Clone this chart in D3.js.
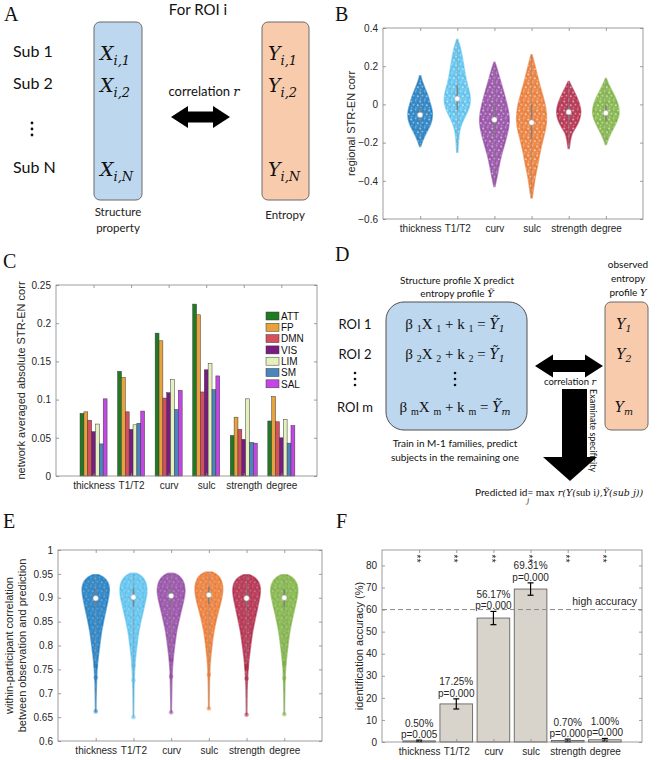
<!DOCTYPE html>
<html>
<head>
<meta charset="utf-8">
<script src="https://cdn.jsdelivr.net/npm/d3@7"></script>
<style>
  body { margin: 0; background: #fff; }
  svg { display: block; }
</style>
</head>
<body>
<div id="chart"></div>
<script>
// ---------- data ----------
var categories = ["thickness", "T1/T2", "curv", "sulc", "strength", "degree"];
var catColors = ["#0b72bd", "#4dbdee", "#8a3a9c", "#ea6f22", "#ab1638", "#74ad33"];

// panel B : regional STR-EN corr, violin outlines [value, relative density]
var bProfiles = [
  [[0.15,0.03],[0.12,0.13],[0.08,0.33],[0.04,0.55],[0.0,0.68],[-0.03,0.8],[-0.06,0.83],[-0.1,0.73],[-0.13,0.53],[-0.16,0.33],[-0.19,0.16],[-0.22,0.03]],
  [[0.34,0.03],[0.3,0.2],[0.25,0.33],[0.2,0.43],[0.15,0.53],[0.1,0.67],[0.05,0.87],[0.0,0.87],[-0.04,0.67],[-0.08,0.4],[-0.12,0.2],[-0.16,0.1],[-0.25,0.03]],
  [[0.22,0.03],[0.18,0.2],[0.12,0.4],[0.05,0.67],[0.0,0.83],[-0.05,0.97],[-0.1,1.0],[-0.15,0.87],[-0.2,0.7],[-0.26,0.47],[-0.32,0.3],[-0.38,0.17],[-0.43,0.03]],
  [[0.26,0.03],[0.2,0.23],[0.12,0.47],[0.05,0.73],[0.0,0.9],[-0.05,1.0],[-0.1,1.0],[-0.15,0.87],[-0.2,0.7],[-0.26,0.53],[-0.32,0.4],[-0.38,0.23],[-0.44,0.13],[-0.49,0.03]],
  [[0.12,0.03],[0.08,0.27],[0.04,0.53],[0.0,0.73],[-0.04,0.83],[-0.08,0.73],[-0.12,0.47],[-0.15,0.2],[-0.19,0.1],[-0.23,0.03]],
  [[0.135,0.03],[0.1,0.2],[0.06,0.47],[0.02,0.73],[-0.02,0.87],[-0.05,0.9],[-0.09,0.73],[-0.13,0.47],[-0.17,0.2],[-0.21,0.03]]
];
var bMedians = [-0.055, 0.03, -0.08, -0.095, -0.04, -0.045];
var bQ1 = [-0.09, -0.03, -0.16, -0.18, -0.08, -0.085];
var bQ3 = [-0.02, 0.1, 0.0, 0.0, -0.005, -0.005];
var bTicks = [-0.6, -0.4, -0.2, 0, 0.2, 0.4];

// panel C : network averaged absolute STR-EN corr
var networks = ["ATT", "FP", "DMN", "VIS", "LIM", "SM", "SAL"];
var netColors = ["#1f7a22", "#e9a23b", "#d64f5c", "#7a1b82", "#e5f1bd", "#4a85bd", "#c546e6"];
var netCorr = [
  [0.082, 0.084, 0.073, 0.058, 0.068, 0.042, 0.101],
  [0.137, 0.129, 0.084, 0.061, 0.067, 0.069, 0.085],
  [0.187, 0.177, 0.102, 0.109, 0.126, 0.087, 0.112],
  [0.225, 0.211, 0.110, 0.139, 0.147, 0.113, 0.131],
  [0.053, 0.077, 0.061, 0.048, 0.101, 0.044, 0.043],
  [0.072, 0.104, 0.071, 0.050, 0.074, 0.043, 0.066]
];
var cTicks = [0, 0.05, 0.1, 0.15, 0.2, 0.25];

// panel E : within-participant correlation, violin outlines [value, relative density]
var eProfiles = [
  [[0.948,0.2],[0.943,0.55],[0.933,0.82],[0.92,0.93],[0.905,0.88],[0.89,0.78],[0.875,0.68],[0.86,0.58],[0.845,0.48],[0.83,0.38],[0.81,0.3],[0.79,0.22],[0.77,0.14],[0.75,0.08],[0.72,0.04],[0.69,0.02],[0.662,0.01]],
  [[0.951,0.2],[0.946,0.55],[0.935,0.8],[0.92,0.92],[0.905,0.88],[0.89,0.78],[0.875,0.67],[0.86,0.56],[0.845,0.45],[0.83,0.35],[0.81,0.27],[0.79,0.19],[0.77,0.12],[0.75,0.07],[0.72,0.04],[0.68,0.02],[0.65,0.01]],
  [[0.951,0.2],[0.946,0.56],[0.935,0.82],[0.92,0.94],[0.905,0.9],[0.89,0.8],[0.875,0.68],[0.86,0.57],[0.845,0.46],[0.83,0.36],[0.81,0.27],[0.79,0.19],[0.77,0.12],[0.75,0.07],[0.72,0.04],[0.68,0.02],[0.66,0.01]],
  [[0.954,0.2],[0.949,0.56],[0.938,0.83],[0.922,0.95],[0.906,0.9],[0.89,0.79],[0.875,0.66],[0.86,0.54],[0.845,0.43],[0.83,0.33],[0.81,0.24],[0.79,0.17],[0.77,0.1],[0.75,0.06],[0.72,0.03],[0.69,0.02],[0.668,0.01]],
  [[0.948,0.2],[0.943,0.55],[0.933,0.82],[0.92,0.93],[0.905,0.9],[0.89,0.8],[0.875,0.7],[0.86,0.6],[0.845,0.5],[0.83,0.4],[0.81,0.31],[0.79,0.23],[0.77,0.15],[0.75,0.09],[0.72,0.04],[0.69,0.02],[0.655,0.01]],
  [[0.948,0.2],[0.943,0.54],[0.933,0.8],[0.92,0.92],[0.905,0.88],[0.89,0.78],[0.875,0.67],[0.86,0.56],[0.845,0.46],[0.83,0.36],[0.81,0.28],[0.79,0.2],[0.77,0.13],[0.75,0.07],[0.72,0.04],[0.69,0.02],[0.656,0.01]]
];
var eMedians = [0.899, 0.901, 0.904, 0.906, 0.899, 0.9];
var eQ1 = [0.88, 0.882, 0.885, 0.887, 0.88, 0.881];
var eQ3 = [0.918, 0.919, 0.921, 0.923, 0.918, 0.918];
var eOutliers = [
  [0.757, 0.733, 0.662],
  [0.758, 0.727, 0.65],
  [0.77, 0.735, 0.66],
  [0.739, 0.668],
  [0.758, 0.752, 0.731, 0.655],
  [0.762, 0.732, 0.656]
];
var eTicks = [0.6, 0.65, 0.7, 0.75, 0.8, 0.85, 0.9, 0.95, 1];

// panel F : identification accuracy
var fAccuracy = [0.50, 17.25, 56.17, 69.31, 0.70, 1.00];
var fError = [0.35, 2.3, 3.0, 2.8, 0.6, 0.6];
var fPvalue = ["0.005", "0.000", "0.000", "0.000", "0.000", "0.000"];
var fHighAccuracy = 60;
var fStarLevel = 83;
var fTicks = [0, 10, 20, 30, 40, 50, 60, 70, 80];

// ---------- setup ----------
var sansAxis = "'Liberation Sans', Arial, sans-serif";
var sansDiag = "Lato, 'Open Sans', sans-serif";
var serif = "'Liberation Serif', 'Times New Roman', serif";
var mathFont = "'DejaVu Serif', serif";
var axisGray = "#858585";
var textDark = "#262626";

var svg = d3.select("#chart").append("svg")
    .attr("width", 666)
    .attr("height", 760)
    .style("background", "#fff");

var defs = svg.append("defs");
// speckle texture used to mimic the jittered points inside the violins
function speck(id, op) {
  var p = defs.append("pattern").attr("id", id)
      .attr("width", 9).attr("height", 9).attr("patternUnits", "userSpaceOnUse");
  var dots = [[1.2, 1.5, 1.0, 1], [5.6, 0.8, 0.8, 0.7], [3.4, 4.6, 0.9, 0.85], [7.8, 5.2, 1.0, 1], [1.6, 7.6, 0.8, 0.6], [6.0, 8.0, 0.7, 0.8]];
  dots.forEach(function(d) {
    p.append("circle").attr("cx", d[0]).attr("cy", d[1]).attr("r", d[2]).attr("fill", "#fff").attr("opacity", op * d[3]);
  });
  [[4.0, 1.8], [0.6, 4.4], [8.2, 2.4], [4.4, 7.2]].forEach(function(d) {
    p.append("circle").attr("cx", d[0]).attr("cy", d[1]).attr("r", 0.9).attr("fill", "#000").attr("opacity", 0.08);
  });
}
speck("speckB", 0.5);
speck("speckE", 0.22);

// panel letters
var letters = [["A", 4, 21], ["B", 335, 21], ["C", 3, 268], ["D", 335, 261], ["E", 3, 528], ["F", 336, 528]];
svg.selectAll("text.letter").data(letters).enter().append("text")
    .attr("class", "letter")
    .attr("x", function(d) { return d[1]; })
    .attr("y", function(d) { return d[2]; })
    .attr("font-family", serif)
    .attr("font-size", 20)
    .attr("fill", "#111")
    .text(function(d) { return d[0]; });

// matlab-like box axes with inward ticks
function boxAxes(g, x, y, w, h, yTicks, yFmt, xVals) {
  g.append("rect").attr("width", w).attr("height", h)
      .attr("fill", "none").attr("stroke", axisGray).attr("stroke-width", 0.8);
  var left = g.append("g").call(d3.axisLeft(y).tickValues(yTicks).tickFormat(yFmt).tickSize(-3).tickPadding(5));
  var right = g.append("g").attr("transform", "translate(" + w + ",0)")
      .call(d3.axisRight(y).tickValues(yTicks).tickFormat("").tickSize(-3));
  var bottom = g.append("g").attr("transform", "translate(0," + h + ")")
      .call(d3.axisBottom(x).tickValues(xVals).tickFormat(function(d) { return categories[d - 1]; }).tickSize(-3).tickPadding(6));
  var top = g.append("g")
      .call(d3.axisTop(x).tickValues(xVals).tickFormat("").tickSize(-3));
  [left, right, bottom, top].forEach(function(a) {
    a.select(".domain").remove();
    a.selectAll("line").attr("stroke", axisGray).attr("stroke-width", 0.8);
    a.selectAll("text").attr("font-family", sansAxis).attr("font-size", 10).attr("fill", textDark);
  });
}

function yLabel(g, x, cy, lines) {
  var t = g.append("text")
      .attr("transform", "translate(" + x + "," + cy + ") rotate(-90)")
      .attr("text-anchor", "middle")
      .attr("font-family", sansAxis).attr("font-size", 11).attr("fill", textDark);
  lines.forEach(function(s, i) {
    t.append("tspan").attr("x", 0).attr("dy", i === 0 ? (-(lines.length - 1) * 13 / 2) : 13).text(s);
  });
}

function violins(g, x, y, profiles, medians, q1, q3, maxHalf, pat) {
  var wScale = d3.scaleLinear().domain([0, 1]).range([0, maxHalf]);
  profiles.forEach(function(prof, i) {
    var cx = x(i + 1);
    var area = d3.area()
        .y(function(d) { return y(d[0]); })
        .x0(function(d) { return cx - wScale(d[1]); })
        .x1(function(d) { return cx + wScale(d[1]); })
        .curve(d3.curveBasis);
    g.append("path").attr("d", area(prof)).attr("fill", catColors[i]).attr("fill-opacity", 0.82)
        .attr("stroke", catColors[i]).attr("stroke-opacity", 0.55).attr("stroke-width", 1.6);
    g.append("path").attr("d", area(prof)).attr("fill", "url(#" + pat + ")");
    g.append("line").attr("x1", cx).attr("x2", cx)
        .attr("y1", y(prof[prof.length - 1][0])).attr("y2", y(prof[0][0]))
        .attr("stroke", "#8c8c8c").attr("stroke-width", 0.6).attr("stroke-opacity", 0.7);
    g.append("line").attr("x1", cx).attr("x2", cx)
        .attr("y1", y(q1[i])).attr("y2", y(q3[i]))
        .attr("stroke", "#7a7a7a").attr("stroke-width", 1.6).attr("stroke-opacity", 0.8);
    g.append("circle").attr("cx", cx).attr("cy", y(medians[i])).attr("r", 2.7)
        .attr("fill", "#fff").attr("stroke", "#999").attr("stroke-width", 0.5);
  });
}

// ---------- panel A : diagram ----------
var gA = svg.append("g");
gA.append("text").attr("x", 198).attr("y", 15).attr("text-anchor", "middle")
    .attr("font-family", sansDiag).attr("font-size", 15).attr("fill", "#111").text("For ROI i");
gA.append("rect").attr("x", 94).attr("y", 22).attr("width", 48).attr("height", 178).attr("rx", 6)
    .attr("fill", "#bdd7ee").attr("stroke", "#6b6b6b").attr("stroke-width", 1);
gA.append("rect").attr("x", 262).attr("y", 22).attr("width", 47).attr("height", 178).attr("rx", 6)
    .attr("fill", "#f8cbad").attr("stroke", "#6b6b6b").attr("stroke-width", 1);
var subRows = [["Sub 1", "1", 57], ["Sub 2", "2", 89], ["Sub N", "N", 173]];
subRows.forEach(function(r) {
  gA.append("text").attr("x", 13).attr("y", r[2]).attr("font-family", sansDiag).attr("font-size", 16)
      .attr("fill", "#111").text(r[0]);
  ["X", "Y"].forEach(function(v, k) {
    var t = gA.append("text").attr("x", k === 0 ? 100 : 268).attr("y", r[2] + 3)
        .attr("font-family", mathFont).attr("font-style", "italic").attr("font-size", 19).attr("fill", "#111");
    t.append("tspan").text(v);
    t.append("tspan").attr("font-size", 13).attr("dy", 5).text("i," + r[1]);
  });
});
[123, 129, 135].forEach(function(cy) {
  gA.append("circle").attr("cx", 32).attr("cy", cy).attr("r", 1.4).attr("fill", "#111");
});
function dblArrow(x0, x1, cy, hl, hh, sh) {
  return "M" + x0 + "," + cy + "L" + (x0 + hl) + "," + (cy - hh) + "L" + (x0 + hl) + "," + (cy - sh) +
    "L" + (x1 - hl) + "," + (cy - sh) + "L" + (x1 - hl) + "," + (cy - hh) + "L" + x1 + "," + cy +
    "L" + (x1 - hl) + "," + (cy + hh) + "L" + (x1 - hl) + "," + (cy + sh) + "L" + (x0 + hl) + "," + (cy + sh) +
    "L" + (x0 + hl) + "," + (cy + hh) + "Z";
}
gA.append("path").attr("d", dblArrow(171, 230, 117, 17, 11, 5.5)).attr("fill", "#000");
var corrA = gA.append("text").attr("x", 204).attr("y", 96).attr("text-anchor", "middle")
    .attr("font-family", sansDiag).attr("font-size", 13).attr("fill", "#111");
corrA.append("tspan").text("correlation ");
corrA.append("tspan").attr("font-family", mathFont).attr("font-style", "italic").text("r");
gA.append("text").attr("x", 118).attr("y", 216).attr("text-anchor", "middle")
    .attr("font-family", sansDiag).attr("font-size", 11.5).attr("fill", "#222").text("Structure");
gA.append("text").attr("x", 118).attr("y", 232).attr("text-anchor", "middle")
    .attr("font-family", sansDiag).attr("font-size", 11.5).attr("fill", "#222").text("property");
gA.append("text").attr("x", 285).attr("y", 219).attr("text-anchor", "middle")
    .attr("font-family", sansDiag).attr("font-size", 11.5).attr("fill", "#222").text("Entropy");

// ---------- panel B : violins ----------
var bW = 260, bH = 191;
var gB = svg.append("g").attr("transform", "translate(383,28)");
var xB = d3.scaleLinear().domain([0, 7]).range([0, bW]);
var yB = d3.scaleLinear().domain([-0.6, 0.4]).range([bH, 0]);
violins(gB, xB, yB, bProfiles, bMedians, bQ1, bQ3, 15, "speckB");
boxAxes(gB, xB, yB, bW, bH, bTicks, function(d) { return d3.format("")(+d.toFixed(1)); }, [1, 2, 3, 4, 5, 6]);
yLabel(gB, -28, bH / 2, ["regional STR-EN corr"]);

// ---------- panel C : grouped bars ----------
var cW = 261, cH = 191;
var gC = svg.append("g").attr("transform", "translate(56,285)");
var xC = d3.scaleLinear().domain([0, 6.95]).range([0, cW]);
var yC = d3.scaleLinear().domain([0, 0.25]).range([cH, 0]);
var inner = d3.scaleBand().domain(networks).range([-0.36, 0.36]);
netCorr.forEach(function(vals, i) {
  gC.selectAll(null).data(vals).enter().append("rect")
      .attr("x", function(d, j) { return xC(i + 1 + inner(networks[j])); })
      .attr("width", xC(inner.bandwidth()) - xC(0))
      .attr("y", function(d) { return yC(d); })
      .attr("height", function(d) { return cH - yC(d); })
      .attr("fill", function(d, j) { return netColors[j]; })
      .attr("stroke", "#3a3a3a").attr("stroke-width", 0.5);
});
boxAxes(gC, xC, yC, cW, cH, cTicks, function(d) { return d3.format("")(+d.toFixed(2)); }, [1, 2, 3, 4, 5, 6]);
yLabel(gC, -31, cH / 2, ["network averaged absolute STR-EN corr"]);
var leg = gC.append("g").attr("transform", "translate(210,31)");
networks.forEach(function(n, j) {
  var row = leg.append("g").attr("transform", "translate(0," + (j * 11.3) + ")");
  row.append("rect").attr("x", 0).attr("y", -4).attr("width", 13).attr("height", 8)
      .attr("fill", netColors[j]).attr("stroke", "#3a3a3a").attr("stroke-width", 0.5);
  row.append("text").attr("x", 15).attr("y", 3.8).attr("font-family", sansAxis).attr("font-size", 10)
      .attr("fill", "#111").text(n);
});

// ---------- panel D : diagram ----------
var gD = svg.append("g");
function dText(x, y, s, size, anchor) {
  return gD.append("text").attr("x", x).attr("y", y).attr("text-anchor", anchor || "middle")
      .attr("font-family", sansDiag).attr("font-size", size).attr("fill", "#111").text(s);
}
var h1 = dText(457, 284, "Structure profile ", 10);
h1.append("tspan").attr("font-family", mathFont).attr("font-size", 10).text("X");
h1.append("tspan").text(" predict");
var h2 = dText(457, 297, "entropy profile ", 10);
h2.append("tspan").attr("font-family", mathFont).attr("font-style", "italic").text("Ỹ");
dText(628, 268, "observed", 10);
dText(628, 282, "entropy", 10);
var h3 = dText(628, 296, "profile ", 10);
h3.append("tspan").attr("font-family", mathFont).attr("font-style", "italic").text("Y");

gD.append("rect").attr("x", 386).attr("y", 302).attr("width", 141).attr("height", 128).attr("rx", 18)
    .attr("fill", "#bdd7ee").attr("stroke", "#505050").attr("stroke-width", 1);
gD.append("rect").attr("x", 605).attr("y", 302).attr("width", 43).attr("height", 128).attr("rx", 6)
    .attr("fill", "#f8cbad").attr("stroke", "#6b6b6b").attr("stroke-width", 1);

var roiRows = [["ROI 1", "1", "1", 329], ["ROI 2", "2", "1", 359], ["ROI m", "m", "m", 412]];
roiRows.forEach(function(r) {
  dText(355, r[3], r[0], 13);
  var t = gD.append("text").attr("x", 455).attr("y", r[3]).attr("text-anchor", "middle")
      .attr("font-family", serif).attr("font-size", 15).attr("fill", "#111");
  t.append("tspan").text("β ");
  t.append("tspan").attr("font-size", 10).attr("dy", 3).text(r[1]);
  t.append("tspan").attr("dy", -3).text("X ");
  t.append("tspan").attr("font-size", 10).attr("dy", 3).text(r[1]);
  t.append("tspan").attr("dy", -3).text(" + k ");
  t.append("tspan").attr("font-size", 10).attr("dy", 3).text(r[1]);
  t.append("tspan").attr("dy", -3).text(" =  ");
  t.append("tspan").attr("font-family", mathFont).attr("font-style", "italic").attr("font-size", 14).text("Ỹ");
  t.append("tspan").attr("font-family", mathFont).attr("font-style", "italic").attr("font-size", 9.5).attr("dy", 3).text(r[2]);
  var y = gD.append("text").attr("x", 624).attr("y", r[3]).attr("text-anchor", "middle")
      .attr("font-family", mathFont).attr("font-style", "italic").attr("font-size", 14).attr("fill", "#111");
  y.append("tspan").text("Y");
  y.append("tspan").attr("font-size", 9.5).attr("dy", 3).text(r[1]);
});
[[355, 373], [455, 373]].forEach(function(p) {
  [0, 6, 12].forEach(function(dy) {
    gD.append("circle").attr("cx", p[0]).attr("cy", p[1] + dy).attr("r", 1.3).attr("fill", "#111");
  });
});
gD.append("path").attr("d", dblArrow(535, 603, 366, 18, 11.5, 6)).attr("fill", "#000");
var corrD = dText(570, 385, "correlation ", 9.5);
corrD.append("tspan").attr("font-family", mathFont).attr("font-style", "italic").text("r");
gD.append("path").attr("d", "M562,389L587,389L587,457L597,457L570,481L543,457L562,457Z").attr("fill", "#000");
gD.append("text").attr("transform", "translate(590,389) rotate(90)")
    .attr("font-family", sansDiag).attr("font-size", 9).attr("fill", "#111").text("Examinate specificity");
dText(455, 447, "Train in M-1 families, predict", 10);
dText(455, 461, "subjects in the remaining one", 10);
var pred = dText(475, 496, "Predicted id= ", 10, "start");
pred.append("tspan").attr("font-family", serif).attr("font-size", 11).text("max");
pred.append("tspan").attr("font-family", mathFont).attr("font-style", "italic").attr("font-size", 9.5)
    .text("  r(Y(");
pred.append("tspan").attr("font-family", serif).attr("font-size", 10.5).text("sub i");
pred.append("tspan").attr("font-family", mathFont).attr("font-style", "italic").attr("font-size", 9.5)
    .text("),Ỹ(sub j))");
gD.append("text").attr("x", 527).attr("y", 503).attr("font-family", mathFont).attr("font-style", "italic")
    .attr("font-size", 7).attr("fill", "#111").text("j");

// ---------- panel E : violins ----------
var eW = 264, eH = 191;
var gE = svg.append("g").attr("transform", "translate(58,550)");
var xE = d3.scaleLinear().domain([0, 7]).range([0, eW]);
var yE = d3.scaleLinear().domain([0.6, 1]).range([eH, 0]);
violins(gE, xE, yE, eProfiles, eMedians, eQ1, eQ3, 15, "speckE");
eOutliers.forEach(function(pts, i) {
  gE.selectAll(null).data(pts).enter().append("circle")
      .attr("cx", xE(i + 1)).attr("cy", function(d) { return yE(d); }).attr("r", 2.3)
      .attr("fill", catColors[i]).attr("fill-opacity", 0.45);
});
boxAxes(gE, xE, yE, eW, eH, eTicks, function(d) { return d3.format("")(+d.toFixed(2)); }, [1, 2, 3, 4, 5, 6]);
yLabel(gE, -39, eH / 2, ["within-participant correlation", "between observation and prediction"]);

// ---------- panel F : accuracy bars ----------
var fW = 260, fH = 192;
var gF = svg.append("g").attr("transform", "translate(382,550)");
var xF = d3.scaleLinear().domain([0, 7]).range([0, fW]);
var yF = d3.scaleLinear().domain([0, 87]).range([fH, 0]);
gF.selectAll("rect.bar").data(fAccuracy).enter().append("rect")
    .attr("class", "bar")
    .attr("x", function(d, i) { return xF(i + 1 - 0.44); })
    .attr("width", xF(0.88) - xF(0))
    .attr("y", function(d) { return yF(d); })
    .attr("height", function(d) { return fH - yF(d); })
    .attr("fill", "#d9d4cb").attr("stroke", "#555").attr("stroke-width", 0.8);
fAccuracy.forEach(function(v, i) {
  var cx = xF(i + 1), lo = yF(Math.max(0, v - fError[i])), hi = yF(v + fError[i]);
  gF.append("line").attr("x1", cx).attr("x2", cx).attr("y1", lo).attr("y2", hi).attr("stroke", "#000").attr("stroke-width", 1.2);
  [lo, hi].forEach(function(yy) {
    gF.append("line").attr("x1", cx - 3).attr("x2", cx + 3).attr("y1", yy).attr("y2", yy).attr("stroke", "#000").attr("stroke-width", 1.2);
  });
  gF.append("text").attr("x", cx).attr("y", hi - 13.5).attr("text-anchor", "middle")
      .attr("font-family", sansAxis).attr("font-size", 10).attr("fill", textDark)
      .text(v.toFixed(2) + "%");
  gF.append("text").attr("x", cx).attr("y", hi - 2).attr("text-anchor", "middle")
      .attr("font-family", sansAxis).attr("font-size", 10).attr("fill", textDark)
      .text("p=" + fPvalue[i]);
  // significance marks: two stacked asterisks
  gF.append("text").attr("transform", "translate(" + (cx - 5.8) + "," + yF(fStarLevel) + ") rotate(90)")
      .attr("text-anchor", "middle").attr("font-family", sansAxis).attr("font-size", 10)
      .attr("letter-spacing", 0.5).attr("fill", "#222").text("**");
});
gF.append("line").attr("x1", 0).attr("x2", fW).attr("y1", yF(fHighAccuracy)).attr("y2", yF(fHighAccuracy))
    .attr("stroke", "#8a8a8a").attr("stroke-width", 1).attr("stroke-dasharray", "5,3");
gF.append("text").attr("x", fW - 5).attr("y", yF(fHighAccuracy) - 5).attr("text-anchor", "end")
    .attr("font-family", sansAxis).attr("font-size", 10.5).attr("fill", textDark).text("high accuracy");
boxAxes(gF, xF, yF, fW, fH, fTicks, d3.format("d"), [1, 2, 3, 4, 5, 6]);
yLabel(gF, -19, fH / 2, ["identification accuracy (%)"]);
</script>
</body>
</html>
